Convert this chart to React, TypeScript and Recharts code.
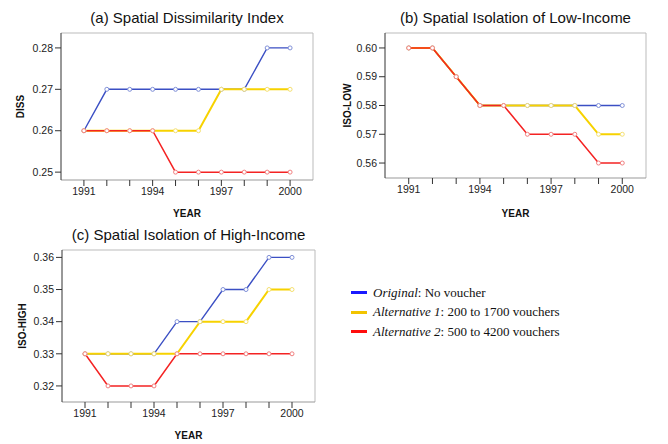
import React from 'react';
import {
  LineChart,
  Line,
  XAxis,
  YAxis,
  ReferenceLine,
  Label,
} from 'recharts';

const years = [1991, 1992, 1993, 1994, 1995, 1996, 1997, 1998, 1999, 2000];
const yearTicks = [1991, 1992, 1993, 1994, 1995, 1996, 1997, 1998, 1999, 2000];
const labeledYears = [1991, 1994, 1997, 2000];

// (a) Spatial Dissimilarity Index
const dissOriginal = [0.26, 0.27, 0.27, 0.27, 0.27, 0.27, 0.27, 0.27, 0.28, 0.28];
const dissAlt1 = [0.26, 0.26, 0.26, 0.26, 0.26, 0.26, 0.27, 0.27, 0.27, 0.27];
const dissAlt2 = [0.26, 0.26, 0.26, 0.26, 0.25, 0.25, 0.25, 0.25, 0.25, 0.25];
const dissTicks = [0.25, 0.26, 0.27, 0.28];

// (b) Spatial Isolation of Low-Income
const lowOriginal = [0.6, 0.6, 0.59, 0.58, 0.58, 0.58, 0.58, 0.58, 0.58, 0.58];
const lowAlt1 = [0.6, 0.6, 0.59, 0.58, 0.58, 0.58, 0.58, 0.58, 0.57, 0.57];
const lowAlt2 = [0.6, 0.6, 0.59, 0.58, 0.58, 0.57, 0.57, 0.57, 0.56, 0.56];
const lowTicks = [0.56, 0.57, 0.58, 0.59, 0.6];

// (c) Spatial Isolation of High-Income
const highOriginal = [0.33, 0.33, 0.33, 0.33, 0.34, 0.34, 0.35, 0.35, 0.36, 0.36];
const highAlt1 = [0.33, 0.33, 0.33, 0.33, 0.33, 0.34, 0.34, 0.34, 0.35, 0.35];
const highAlt2 = [0.33, 0.32, 0.32, 0.32, 0.33, 0.33, 0.33, 0.33, 0.33, 0.33];
const highTicks = [0.32, 0.33, 0.34, 0.35, 0.36];

const BLUE = '#3b4fc4';
const YELLOW = '#f7d200';
const RED = '#f42323';

const FONT = '"Liberation Sans", Arial, sans-serif';

const buildRows = (orig: number[], alt1: number[], alt2: number[]) =>
  years.map((year, i) => ({ year, orig: orig[i], alt1: alt1[i], alt2: alt2[i] }));

type PanelProps = {
  left: number;
  top: number;
  title: string;
  titleY: number;
  yLabel: string;
  yLabelX: number;
  yAxisWidth: number;
  marginTop: number;
  marginRight: number;
  xAxisHeight: number;
  domain: [number, number];
  ticks: number[];
  rows: ReturnType<typeof buildRows>;
};

const W = 334;
const H = 222;

function Panel(p: PanelProps) {
  const plotLeft = p.yAxisWidth;
  const plotWidth = W - p.yAxisWidth - p.marginRight;
  const tickStyle = { fill: '#222', fontSize: 10.5, fontFamily: FONT };
  return (
    <div style={{ position: 'absolute', left: p.left, top: p.top, width: W, height: H }}>
      <div
        style={{
          position: 'absolute',
          left: plotLeft,
          width: plotWidth,
          top: p.titleY - 9,
          height: 18,
          lineHeight: '18px',
          textAlign: 'center',
          fontFamily: FONT,
          fontSize: 15,
          color: '#111',
          whiteSpace: 'nowrap',
        }}
      >
        {p.title}
      </div>
      <LineChart
        width={W}
        height={H}
        data={p.rows}
        margin={{ top: p.marginTop, right: p.marginRight, bottom: 0, left: 0 }}
      >
        <XAxis
          dataKey="year"
          type="number"
          domain={[1990, 2001]}
          ticks={yearTicks}
          interval={0}
          height={p.xAxisHeight}
          tickSize={6}
          tickLine={{ stroke: '#333' }}
          axisLine={{ stroke: '#999' }}
          tick={tickStyle}
          tickFormatter={(v: number) => (labeledYears.includes(v) ? String(v) : '')}
        >
          <Label
            value="YEAR"
            position="insideBottom"
            offset={5}
            style={{ fontFamily: FONT, fontSize: 10, fontWeight: 'bold', fill: '#111' }}
          />
        </XAxis>
        <YAxis
          type="number"
          domain={p.domain}
          ticks={p.ticks}
          allowDataOverflow
          width={p.yAxisWidth}
          tickSize={6}
          tickLine={{ stroke: '#333' }}
          axisLine={{ stroke: '#333' }}
          tick={tickStyle}
          tickFormatter={(v: number) => v.toFixed(2)}
        >
          <Label
            value={p.yLabel}
            angle={-90}
            position="insideLeft"
            offset={p.yLabelX}
            style={{ fontFamily: FONT, fontSize: 10, fontWeight: 'bold', fill: '#111', textAnchor: 'middle' }}
          />
        </YAxis>
        <ReferenceLine y={p.domain[1]} stroke="#bbb" ifOverflow="extendDomain" />
        <ReferenceLine x={2001} stroke="#bbb" ifOverflow="extendDomain" />
        <Line
          dataKey="orig"
          stroke={BLUE}
          strokeWidth={1.4}
          dot={{ r: 2, fill: '#fff', stroke: '#8090d8', strokeWidth: 1 }}
          isAnimationActive={false}
        />
        <Line
          dataKey="alt1"
          stroke={YELLOW}
          strokeWidth={2}
          dot={{ r: 2, fill: '#fff', stroke: '#f5e070', strokeWidth: 1 }}
          isAnimationActive={false}
        />
        <Line
          dataKey="alt2"
          stroke={RED}
          strokeWidth={1.5}
          dot={{ r: 2, fill: '#fff', stroke: '#f28080', strokeWidth: 1 }}
          isAnimationActive={false}
        />
      </LineChart>
    </div>
  );
}

const legendItems = [
  { color: '#1a1aff', name: 'Original', rest: ': No voucher' },
  { color: '#f2c400', name: 'Alternative 1', rest: ': 200 to 1700 vouchers' },
  { color: '#ff0d0d', name: 'Alternative 2', rest: ': 500 to 4200 vouchers' },
];

export default function App() {
  return (
    <div style={{ position: 'absolute', left: 0, top: 0, width: 668, height: 444, background: '#fff', overflow: 'hidden' }}>
      <Panel
        left={0}
        top={0}
        title="(a) Spatial Dissimilarity Index"
        titleY={18}
        yLabel="DISS"
        yLabelX={20}
        yAxisWidth={61}
        marginTop={33}
        marginRight={21}
        xAxisHeight={42}
        domain={[0.2481, 0.2836]}
        ticks={dissTicks}
        rows={buildRows(dissOriginal, dissAlt1, dissAlt2)}
      />
      <Panel
        left={334}
        top={0}
        title="(b) Spatial Isolation of Low-Income"
        titleY={18}
        yLabel="ISO-LOW"
        yLabelX={13}
        yAxisWidth={51}
        marginTop={33}
        marginRight={22}
        xAxisHeight={44}
        domain={[0.5548, 0.6052]}
        ticks={lowTicks}
        rows={buildRows(lowOriginal, lowAlt1, lowAlt2)}
      />
      <Panel
        left={0}
        top={222}
        title="(c) Spatial Isolation of High-Income"
        titleY={13}
        yLabel="ISO-HIGH"
        yLabelX={22}
        yAxisWidth={62}
        marginTop={28}
        marginRight={19}
        xAxisHeight={42}
        domain={[0.315, 0.3623]}
        ticks={highTicks}
        rows={buildRows(highOriginal, highAlt1, highAlt2)}
      />
      <div style={{ position: 'absolute', left: 351, top: 283, fontFamily: '"Liberation Serif", "Times New Roman", serif', fontSize: 13, color: '#111' }}>
        {legendItems.map((it) => (
          <div key={it.name} style={{ display: 'flex', alignItems: 'center', height: 19.5 }}>
            <span style={{ display: 'inline-block', width: 16, height: 3, background: it.color, marginRight: 6 }} />
            <span>
              <i>{it.name}</i>
              {it.rest}
            </span>
          </div>
        ))}
      </div>
    </div>
  );
}
